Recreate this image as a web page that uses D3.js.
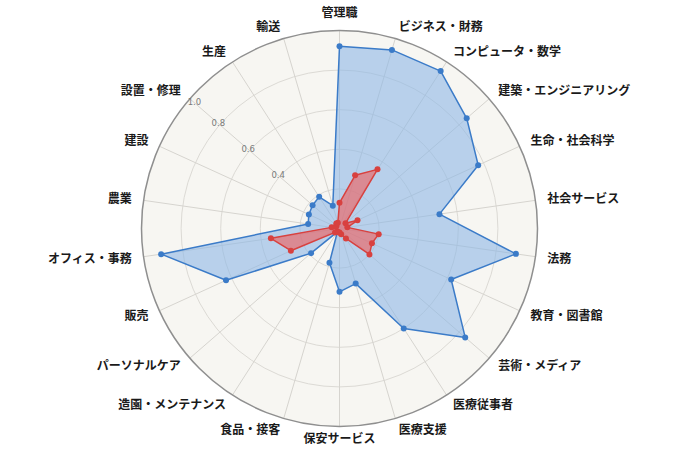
<!DOCTYPE html>
<html>
<head>
<meta charset="utf-8">
<script src="https://cdn.jsdelivr.net/npm/d3@7"></script>
<style>
  body { margin: 0; background: #fff; }
  svg { display: block; font-family: "Noto Sans CJK JP", "Noto Sans", sans-serif; }
</style>
</head>
<body>
<svg id="chart"></svg>
<script>
const categories = [
  "管理職", "ビジネス・財務", "コンピュータ・数学", "建築・エンジニアリング",
  "生命・社会科学", "社会サービス", "法務", "教育・図書館", "芸術・メディア",
  "医療従事者", "医療支援", "保安サービス", "食品・接客", "造園・メンテナンス",
  "パーソナルケア", "販売", "オフィス・事務", "農業", "建設", "設置・修理",
  "生産", "輸送"
];

// blue series
const blueValues = [
  0.92, 0.94, 0.945, 0.85, 0.77, 0.51, 0.90, 0.62, 0.84, 0.60, 0.29,
  0.32, 0.18, 0.02, 0.19, 0.63, 0.91, 0.16, 0.17, 0.18, 0.19, 0.12
];

// red series
const redValues = [
  0.13, 0.28, 0.355, 0.04, 0.10, 0.04, 0.20, 0.18, 0.20, 0.06, 0.03,
  0.02, 0.02, 0.02, 0.03, 0.27, 0.35, 0.04, 0.02, 0.02, 0.03, 0.03
];

const gridValues = [0.2, 0.4, 0.6, 0.8, 1.0];
const tickLabels = ["0.4", "0.6", "0.8", "1.0"];

const width = 680,
  height = 449,
  cx = 339.5,
  cy = 228.5,
  radius = 198;

const svg = d3.select("#chart").attr("width", width).attr("height", height);

const g = svg.append("g").attr("transform", `translate(${cx}, ${cy})`);

const r = d3.scaleLinear().domain([0, 1]).range([0, radius]);

const angle = d3
  .scaleLinear()
  .domain([0, categories.length])
  .range([0, 2 * Math.PI]);

// background disc
g.append("circle").attr("r", radius).attr("fill", "#f7f6f2");

// grid circles
g.append("g")
  .selectAll("circle")
  .data(gridValues.slice(0, -1))
  .join("circle")
  .attr("r", (d) => r(d))
  .attr("fill", "none")
  .attr("stroke", "#dcdad5")
  .attr("stroke-width", 1);

// spokes
g.append("g")
  .selectAll("line")
  .data(categories)
  .join("line")
  .attr("x1", 0)
  .attr("y1", 0)
  .attr("x2", (d, i) => radius * Math.sin(angle(i)))
  .attr("y2", (d, i) => -radius * Math.cos(angle(i)))
  .attr("stroke", "#d6d4cf")
  .attr("stroke-width", 1);

// outer ring
g.append("circle")
  .attr("r", radius)
  .attr("fill", "none")
  .attr("stroke", "#8f8f8f")
  .attr("stroke-width", 1.5);

// radial tick labels, along the 設置・修理 spoke
const tickAngle = angle(19);
g.append("g")
  .selectAll("text")
  .data(tickLabels)
  .join("text")
  .attr("x", (d) => Math.min(r(+d) + 2, radius - 6) * Math.sin(tickAngle))
  .attr("y", (d) => -Math.min(r(+d) + 2, radius - 6) * Math.cos(tickAngle))
  .attr("text-anchor", "middle")
  .attr("dominant-baseline", "middle")
  .attr("font-size", 8.5)
  .attr("font-family", "DejaVu Sans, sans-serif")
  .attr("fill", "#7a7a7a")
  .text((d) => d);

const line = d3
  .lineRadial()
  .angle((d, i) => angle(i))
  .radius((d) => r(d))
  .curve(d3.curveLinearClosed);

const series = [
  { values: blueValues, fill: "#8db8e6", stroke: "#3b7bc8", opacity: 0.6 },
  { values: redValues, fill: "#ec6464", stroke: "#d8413f", opacity: 0.65 }
];

series.forEach((s) => {
  const sg = g.append("g");
  sg.append("path")
    .attr("d", line(s.values))
    .attr("fill", s.fill)
    .attr("fill-opacity", s.opacity)
    .attr("stroke", s.stroke)
    .attr("stroke-width", 1.5)
    .attr("stroke-linejoin", "round");
  sg.selectAll("circle")
    .data(s.values)
    .join("circle")
    .attr("cx", (d, i) => r(d) * Math.sin(angle(i)))
    .attr("cy", (d, i) => -r(d) * Math.cos(angle(i)))
    .attr("r", 3)
    .attr("fill", s.stroke);
});

// category labels
const labelR = 210;
g.append("g")
  .selectAll("text")
  .data(categories)
  .join("text")
  .attr("x", (d, i) => labelR * Math.sin(angle(i)))
  .attr("y", (d, i) => -labelR * Math.cos(angle(i)))
  .attr("text-anchor", (d, i) => {
    const s = Math.sin(angle(i));
    return Math.abs(s) < 0.05 ? "middle" : s > 0 ? "start" : "end";
  })
  .attr("dy", (d, i) => (Math.cos(angle(i)) > 0.99 ? "-0.1em" : "0.35em"))
  .attr("font-size", 12)
  .attr("font-weight", "bold")
  .attr("fill", "#1a1a1a")
  .text((d) => d);
</script>
</body>
</html>
